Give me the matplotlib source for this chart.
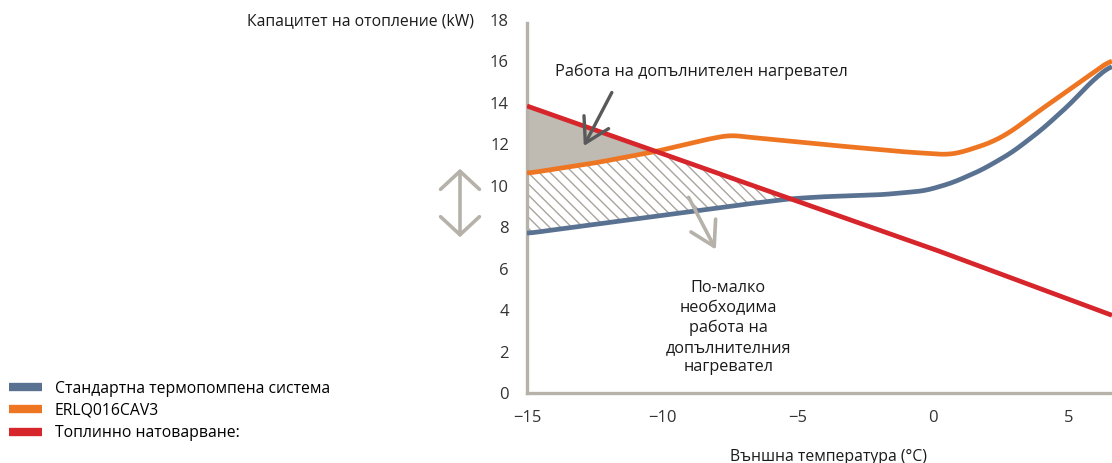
import matplotlib.pyplot as plt
from matplotlib.lines import Line2D
import numpy as np

plt.rcParams["font.family"] = ["Open Sans", "DejaVu Sans"]

# outdoor temperature (°C) and capacities (kW)
load_t = [-15, 0, 6.6]
load_kw = [13.85, 6.95, 3.75]

erlq_t = [-15, -12.5, -10.3, -8.5, -7.5, -7.0, -4.1, -1.2, 0.5, 1.0, 2.1, 2.8, 4.0, 5.2, 6.6]
erlq_kw = [10.6, 11.1, 11.64, 12.2, 12.45, 12.37, 12.0, 11.65, 11.5, 11.6, 12.07, 12.55, 13.7, 14.8, 16.1]

std_t = [-15, -7.0, -5.3, -4.1, -1.9, -0.3, 0.7, 1.8, 2.9, 4.0, 5.1, 5.8, 6.6]
std_kw = [7.7, 9.1, 9.37, 9.47, 9.57, 9.76, 10.14, 10.77, 11.6, 12.7, 14.0, 14.98, 15.85]

xticks = [-15, -10, -5, 0, 5]
yticks = list(range(0, 19, 2))

labels = ["Стандартна термопомпена система", "ERLQ016CAV3", "Топлинно натоварване:"]
c_std = "#5a7292"
c_erlq = "#ee7623"
c_load = "#d6252b"
c_axis = "#b6b2a9"


def smooth(y, n=21):
    # soften the corners of the piecewise curve
    pad = np.pad(y, n // 2, mode="edge")
    return np.convolve(pad, np.ones(n) / n, mode="valid")


fig = plt.figure(figsize=(11.12, 4.63), dpi=100)
ax = fig.add_axes([527 / 1112, 70 / 463, 585 / 1112, 373 / 463])

t = np.linspace(-15, 6.6, 600)
red = np.interp(t, load_t, load_kw)
orange = smooth(np.interp(t, erlq_t, erlq_kw))
blue = smooth(np.interp(t, std_t, std_kw))

# shaded zone: backup heater needed
ax.fill_between(t, orange, red, where=red > orange, interpolate=True,
                color="#bfbab2", lw=0, zorder=1)
# hatched zone: less backup heater operation
top = np.minimum(red, orange)
ax.fill_between(t, blue, top, where=top > blue, interpolate=True,
                facecolor="none", edgecolor="#a9a59d", hatch="\\\\\\", lw=0, zorder=1)

ax.plot(t, blue, color=c_std, lw=3.4, zorder=3, solid_capstyle="butt")
ax.plot(t, orange, color=c_erlq, lw=3.4, zorder=3, solid_capstyle="butt")
ax.plot(t, red, color=c_load, lw=3.4, zorder=4, solid_capstyle="butt")

ax.set_xlim(-15, 6.6)
ax.set_ylim(0, 18)
ax.set_xticks(xticks)
ax.set_xticklabels([("\u2212" + str(-v)) if v < 0 else str(v) for v in xticks])
ax.set_yticks(yticks)
ax.tick_params(length=0, labelsize=12, colors="#333333")
ax.tick_params(axis="y", pad=13)
ax.tick_params(axis="x", pad=12)
for s in ["top", "right"]:
    ax.spines[s].set_visible(False)
for s in ["left", "bottom"]:
    ax.spines[s].set_color(c_axis)
    ax.spines[s].set_linewidth(2.4)
ax.spines["left"].set_bounds(0, 17.85)

ax.text(-8.57, 15.5, "Работа на допълнителен нагревател", ha="center", va="center",
        fontsize=11.7, color="#1a1a1a")
ax.text(-7.57, 3.14, "По-малко\nнеобходима\nработа на\nдопълнителния\nнагревател",
        ha="center", va="center", fontsize=11.7, linespacing=1.3, color="#1a1a1a")

ax.annotate("", xy=(-12.95, 11.8), xytext=(-11.82, 14.62),
            arrowprops=dict(arrowstyle="->,head_length=0.85,head_width=0.5",
                            color="#595959", lw=2.4, mutation_scale=20), zorder=5)
ax.annotate("", xy=(-7.98, 6.8), xytext=(-9.08, 9.56), annotation_clip=False,
            arrowprops=dict(arrowstyle="->,head_length=0.85,head_width=0.5",
                            color=c_axis, lw=2.6, mutation_scale=20), zorder=5)

ax.annotate("", xy=(460 / 1112, 1 - 166 / 463), xytext=(460 / 1112, 1 - 240 / 463),
            xycoords="figure fraction", textcoords="figure fraction",
            arrowprops=dict(arrowstyle="<->,head_length=0.65,head_width=0.7",
                            color=c_axis, lw=2.6, mutation_scale=20))

fig.text(474 / 1112, 1 - 21 / 463, "Капацитет на отопление (kW)", ha="right", va="center",
         fontsize=11.3, color="#1a1a1a")
fig.text(828 / 1112, 1 - 457 / 463, "Външна температура (°C)", ha="center", va="center",
         fontsize=11.3, color="#1a1a1a")

handles = [Line2D([], [], color=c, lw=6, solid_capstyle="butt") for c in (c_std, c_erlq, c_load)]
fig.legend(handles, labels, loc="upper left", bbox_to_anchor=(0.004, 1 - 376 / 463),
           frameon=False, fontsize=11.3, handlelength=2.1, handletextpad=0.8,
           labelspacing=0.4, borderaxespad=0, borderpad=0.3)

fig.savefig("out.png", dpi=100)
